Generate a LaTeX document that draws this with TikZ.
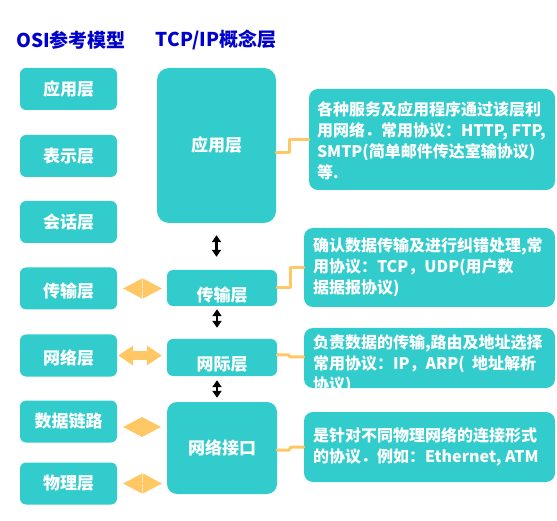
\documentclass[tikz,border=0pt]{standalone}
\usepackage{fontspec}
\setmainfont{Noto Sans CJK SC}
\usetikzlibrary{arrows.meta,calc}
\definecolor{tealbox}{RGB}{51,204,204}
\definecolor{orangeconn}{RGB}{255,200,100}
\definecolor{titleblue}{RGB}{0,0,204}
\begin{document}
\begin{tikzpicture}[x=1pt,y=-1pt,
  boxfont/.style={text=white, inner sep=0pt, font=\fontsize{17}{20}\selectfont\bfseries},
  box/.style={fill=tealbox, draw=none, rounded corners=6pt, boxfont},
  osibox/.style={box, minimum width=97pt, minimum height=42pt},
  tcpbox/.style={box, minimum width=110pt},
  rbox/.style={box, rounded corners=9pt, minimum width=251pt},
  rtext/.style={text=white, inner sep=0pt, align=left,
    font=\fontsize{16}{21}\selectfont\bfseries},
  titletext/.style={text=titleblue, inner sep=0pt, font=\fontsize{19}{21}\selectfont\bfseries},
  vconn/.style={black, line width=2.2pt, {Triangle[width=9pt,length=7pt]}-{Triangle[width=9pt,length=7pt]}},
  diaconn/.style={orangeconn, line width=0.3pt, {Triangle[width=20pt,length=19pt]}-{Triangle[width=20pt,length=19pt]}},
  dblconn/.style={orangeconn, line width=8pt, {Triangle[width=19pt,length=15pt]}-{Triangle[width=19pt,length=15pt]}},
  stepconn/.style={orangeconn, line width=3pt, line cap=round, line join=round}
]
\useasboundingbox[fill=white] (0,0) rectangle (557,521);

% titles
\node[titletext] (t1) at (71,40) {OSI参考模型};
\node[titletext] (t2) at (216,40) {TCP/IP概念层};

% OSI boxes
\node[osibox] (osi1) at (68.5,89) {应用层};
\node[osibox] (osi2) at (68.5,156) {表示层};
\node[osibox] (osi3) at (68.5,222) {会话层};
\node[osibox, label={[boxfont, yshift=-3pt]center:传输层}] (osi4) at (68.5,288.5) {};
\node[osibox, label={[boxfont, yshift=-3pt]center:网络层}] (osi5) at (68.5,355.5) {};
\node[osibox] (osi6) at (68.5,421.5) {数据链路};
\node[osibox] (osi7) at (68.5,483.5) {物理层};

% TCP/IP boxes
\node[tcpbox, rounded corners=12pt, minimum width=119pt, minimum height=155pt] (tcp1) at (216.5,145.5) {应用层};
\node[tcpbox, minimum height=36pt, label={[boxfont, yshift=-7pt]center:传输层}] (tcp2) at (222,288) {};
\node[tcpbox, minimum height=37pt, label={[boxfont, yshift=-7pt]center:网际层}] (tcp3) at (222,357.5) {};
\node[tcpbox, rounded corners=10pt, minimum height=92pt] (tcp4) at (222,448) {网络接口};

% right description boxes
\node[rbox, minimum width=246pt, minimum height=101pt] (r1) at (432,139.5) {};
\node[rbox, minimum height=79pt] (r2) at (429.5,267.5) {};
\node[rbox, minimum height=60pt] (r3) at (429.5,358) {};
\node[rbox, minimum height=70pt] (r4) at (429.5,447) {};

\node[rtext, anchor=west] (r1t) at ($(r1.west)+(8,1)$) {各种服务及应用程序通过该层利\\用网络．常用协议：HTTP, FTP,\\SMTP(简单邮件传达室输协议)\\等.};
\node[rtext, anchor=west] (r2t) at ($(r2.west)+(9,0)$) {确认数据传输及进行纠错处理,常\\用协议：TCP，UDP(用户数\\据据报协议)};
\begin{scope}
  \clip[rounded corners=9pt] (r3.north west) rectangle (r3.south east);
  \node[rtext, anchor=north west] (r3t) at ($(r3.north west)+(9,7)$) {负责数据的传输,路由及地址选择\\常用协议：IP，ARP(\ \ 地址解析\\协议)};
\end{scope}
\node[rtext, anchor=west] (r4t) at ($(r4.west)+(9,0)$) {是针对不同物理网络的连接形式\\的协议．例如：Ethernet, ATM};

% vertical black double arrows
\draw[vconn, shorten <=12pt, shorten >=13pt] (tcp1.south) -- (tcp1.south |- tcp2.north);
\draw[vconn, shorten <=3pt, shorten >=11pt] ([xshift=-5pt]tcp2.south) -- ([xshift=-5pt]tcp3.north);
\draw[vconn, shorten <=4pt, shorten >=4pt] ([xshift=-5pt]tcp3.south) -- ([xshift=-5pt]tcp4.north);

% orange left-centre connectors
\draw[diaconn, shorten <=6pt, shorten >=5pt] (osi4.east) -- (osi4.east -| tcp2.west);
\draw[dblconn, shorten <=1pt, shorten >=5pt] (osi5.east) -- (osi5.east -| tcp3.west);
\draw[diaconn, shorten <=6pt, shorten >=6pt] (osi6.east |- 0,427) -- (tcp4.west |- 0,427);
\draw[diaconn, shorten <=6pt, shorten >=5pt] (osi7.east) -- (osi7.east -| tcp4.west);

% orange step connectors
\draw[stepconn] (tcp1.east |- 0,153) -| (289,140) -- (r1.west |- 0,140);
\draw[stepconn] (tcp2.east) -| (290,268) -- (r2.west |- 0,268);
\draw[stepconn] (tcp3.east |- 0,355) -- (289,355) -- (290,357) -- (r3.west |- 0,357);
\draw[stepconn] (tcp4.east |- 0,450) -- (289,450) -- (291,447) -- (r4.west |- 0,447);
\end{tikzpicture}
\end{document}
